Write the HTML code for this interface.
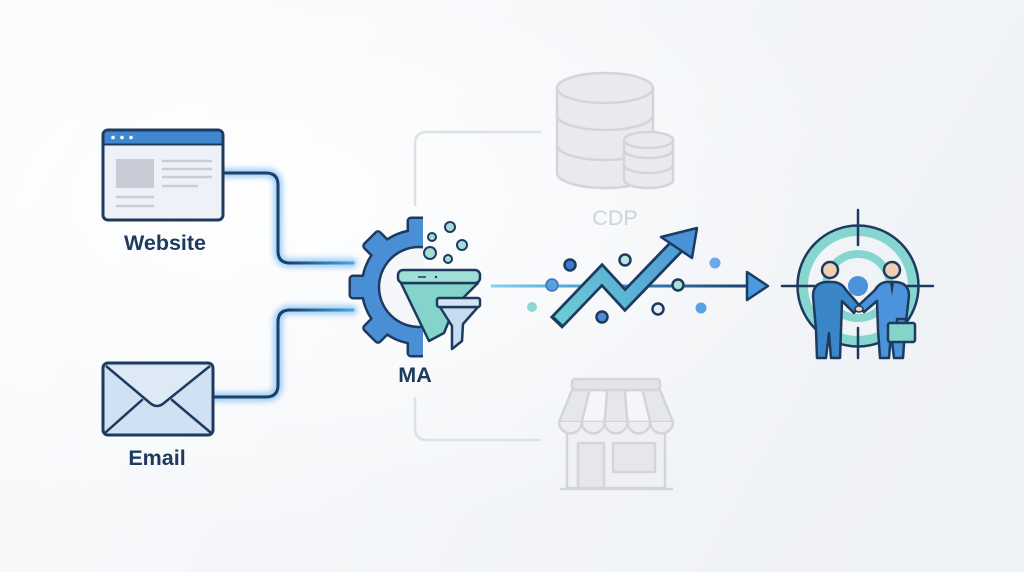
<!DOCTYPE html>
<html><head><meta charset="utf-8"><style>
html,body{margin:0;padding:0;width:1024px;height:572px;overflow:hidden;}
body{background:linear-gradient(120deg,#fafbfc 0%,#f4f6f9 45%,#eef1f5 100%);}
svg{display:block;}
text{font-family:"Liberation Sans",Arial,sans-serif;}
</style></head><body>
<svg width="1024" height="572" viewBox="0 0 1024 572" xmlns="http://www.w3.org/2000/svg">
<defs>
  <radialGradient id="bgw" cx="0.25" cy="0.35" r="0.6">
    <stop offset="0" stop-color="#ffffff" stop-opacity="0.9"/>
    <stop offset="1" stop-color="#ffffff" stop-opacity="0"/>
  </radialGradient>
  <filter id="glow" x="-20%" y="-50%" width="140%" height="200%"><feGaussianBlur stdDeviation="3"/></filter>
  <linearGradient id="lineg" x1="492" y1="0" x2="750" y2="0" gradientUnits="userSpaceOnUse">
    <stop offset="0" stop-color="#86d3ea"/>
    <stop offset="0.45" stop-color="#3f8fcc"/>
    <stop offset="1" stop-color="#1d3f68"/>
  </linearGradient>
  <linearGradient id="zig" x1="557" y1="322" x2="697" y2="230" gradientUnits="userSpaceOnUse">
    <stop offset="0" stop-color="#6ccdd2"/>
    <stop offset="1" stop-color="#4a92d8"/>
  </linearGradient>
  <linearGradient id="cw" x1="290" y1="0" x2="353" y2="0" gradientUnits="userSpaceOnUse">
    <stop offset="0" stop-color="#1d3f68"/>
    <stop offset="1" stop-color="#4aa6dc"/>
  </linearGradient>
  <clipPath id="gc"><rect x="330" y="200" width="93" height="180"/></clipPath>
</defs>
<rect width="1024" height="572" fill="url(#bgw)"/>

<!-- gray connectors -->
<g fill="none" stroke="#dde0e6" stroke-width="2.5" stroke-linecap="round">
  <path d="M415,205 V144 Q415,132 427,132 H540"/>
  <path d="M415,398 V428 Q415,440 427,440 H540"/>
</g>

<!-- Website / Email connectors -->
<g fill="none" stroke-linecap="round" stroke-linejoin="round">
  <g stroke="#4aa8f2" stroke-width="9" opacity="0.55" filter="url(#glow)">
    <path d="M223,173 H266 Q278,173 278,185 V251 Q278,263 290,263 H353"/>
    <path d="M213,397 H266 Q278,397 278,385 V322 Q278,310 290,310 H353"/>
  </g>
  <g stroke="#1d3f68" stroke-width="3">
    <path d="M223,173 H266 Q278,173 278,185 V251 Q278,263 290,263"/>
    <path d="M213,397 H266 Q278,397 278,385 V322 Q278,310 290,310"/>
  </g>
  <g stroke="url(#cw)" stroke-width="3">
    <path d="M289,263 H353"/>
    <path d="M289,310 H353"/>
  </g>
</g>

<!-- Website icon -->
<rect x="103" y="130" width="120" height="90" rx="5" fill="#eef1f8" stroke="#1d3a5f" stroke-width="3"/>
<path d="M104.5,144 V135 Q104.5,131.5 108,131.5 H218 Q221.5,131.5 221.5,135 V144 Z" fill="#3f88d0"/>
<line x1="104" y1="144.5" x2="222" y2="144.5" stroke="#1d3a5f" stroke-width="2"/>
<circle cx="113" cy="137.5" r="1.8" fill="#fff"/><circle cx="122" cy="137.5" r="1.8" fill="#fff"/><circle cx="131" cy="137.5" r="1.8" fill="#fff"/>
<rect x="116" y="159" width="38" height="29" fill="#c9ccd6"/>
<g stroke="#c9ccd6" stroke-width="2.5" stroke-linecap="round">
  <line x1="163" y1="161" x2="211" y2="161"/>
  <line x1="163" y1="169" x2="211" y2="169"/>
  <line x1="163" y1="177" x2="211" y2="177"/>
  <line x1="163" y1="186" x2="197" y2="186"/>
  <line x1="117" y1="197" x2="153" y2="197"/>
  <line x1="117" y1="206" x2="153" y2="206"/>
</g>
<text x="165" y="250" text-anchor="middle" font-size="21.5" font-weight="bold" fill="#1d3a5f">Website</text>

<!-- Email icon -->
<rect x="103" y="363" width="110" height="72" rx="5" fill="#cfe1f2" stroke="#1d3a5f" stroke-width="3"/>
<path d="M106,366 L150,403 Q157,409 164,403 L210,366" fill="#dde9f5" stroke="#1d3a5f" stroke-width="2.5" stroke-linejoin="round"/>
<path d="M106,432 L142,400 M210,432 L172,400" stroke="#1d3a5f" stroke-width="2.5" fill="none" stroke-linecap="round"/>
<text x="157" y="465" text-anchor="middle" font-size="21.5" font-weight="bold" fill="#1d3a5f">Email</text>

<!-- CDP -->
<g fill="#e9eaee" stroke="#d3d5db" stroke-width="2.5">
  <path d="M557,88 V173 A48,15 0 0 0 653,173 V88"/>
  <ellipse cx="605" cy="88" rx="48" ry="15"/>
  <path d="M557,115 A48,15 0 0 0 653,115" fill="none"/>
  <path d="M557,145 A48,15 0 0 0 653,145" fill="none"/>
  <path d="M624,140 V180 A24.5,8 0 0 0 673,180 V140"/>
  <ellipse cx="648.5" cy="140" rx="24.5" ry="8"/>
  <path d="M624,150 A24.5,8 0 0 0 673,150" fill="none"/>
  <path d="M624,165 A24.5,8 0 0 0 673,165" fill="none"/>
</g>
<text x="615" y="225" text-anchor="middle" font-size="21.5" fill="#cfd2d8">CDP</text>

<!-- Store -->
<g stroke="#d3d5db" stroke-width="2.5" stroke-linejoin="round">
  <rect x="567" y="425" width="98" height="63" fill="#eff0f3"/>
  <path d="M572,390 L559,422 H673 L660,390 Z" fill="#e6e7eb"/>
  <path d="M589.6,390 L581.8,422 H604.6 L607.2,390 Z M624.8,390 L627.4,422 H650.2 L642.4,390 Z" fill="#f5f6f8"/>
  <path d="M559,422 a11.4,11.4 0 0 0 22.8,0 a11.4,11.4 0 0 0 22.8,0 a11.4,11.4 0 0 0 22.8,0 a11.4,11.4 0 0 0 22.8,0 a11.4,11.4 0 0 0 22.8,0" fill="#eceef1"/>
  <rect x="572" y="379" width="88" height="11" rx="3" fill="#e3e4e8"/>
  <rect x="578" y="443" width="26" height="45" fill="#e6e7eb"/>
  <rect x="613" y="443" width="42" height="29" rx="1" fill="#e6e7eb"/>
  <line x1="560" y1="489" x2="673" y2="489"/>
</g>

<!-- Gear -->
<g clip-path="url(#gc)">
  <g fill="#1d3a5f" stroke="#1d3a5f" stroke-width="5" stroke-linejoin="round">
    <circle cx="419" cy="287" r="56"/>
    <rect x="409" y="219" width="20" height="22" rx="2"/>
    <rect x="409" y="219" width="20" height="22" rx="2" transform="rotate(-45 419 287)"/>
    <rect x="409" y="219" width="20" height="22" rx="2" transform="rotate(-90 419 287)"/>
    <rect x="409" y="219" width="20" height="22" rx="2" transform="rotate(-135 419 287)"/>
    <rect x="409" y="219" width="20" height="22" rx="2" transform="rotate(180 419 287)"/>
  </g>
  <g fill="#4a8fd6">
    <circle cx="419" cy="287" r="56"/>
    <rect x="409" y="219" width="20" height="22" rx="2"/>
    <rect x="409" y="219" width="20" height="22" rx="2" transform="rotate(-45 419 287)"/>
    <rect x="409" y="219" width="20" height="22" rx="2" transform="rotate(-90 419 287)"/>
    <rect x="409" y="219" width="20" height="22" rx="2" transform="rotate(-135 419 287)"/>
    <rect x="409" y="219" width="20" height="22" rx="2" transform="rotate(180 419 287)"/>
  </g>
  <circle cx="419" cy="287" r="40" fill="#f4f6f9" stroke="#1d3a5f" stroke-width="2.5"/>
</g>

<!-- bubbles -->
<g fill="#a5dcd8" stroke="#1d3a5f" stroke-width="2">
  <circle cx="450" cy="227" r="5"/>
  <circle cx="432" cy="237" r="4"/>
  <circle cx="462" cy="245" r="5"/>
  <circle cx="430" cy="253" r="6"/>
  <circle cx="448" cy="259" r="4"/>
</g>

<!-- Funnels -->
<g stroke="#1d3a5f" stroke-width="2.5" stroke-linejoin="round">
  <path d="M401,283 H478 L455,306 L444,333 L429,341 Z" fill="#84d4cb"/>
  <rect x="398" y="270" width="82" height="13" rx="5" fill="#9fdfd6"/>
  <path d="M440,307 H478 L463,324 L462,341 L452,349 L452,326 Z" fill="#c8dcef"/>
  <rect x="437" y="298" width="43" height="9" rx="2" fill="#d5e4f2"/>
</g>
<line x1="418" y1="277" x2="426" y2="277" stroke="#1d3a5f" stroke-width="1.5"/>
<circle cx="436" cy="277" r="1.2" fill="#1d3a5f"/>
<text x="415" y="382" text-anchor="middle" font-size="21.5" font-weight="bold" fill="#1d3a5f">MA</text>

<!-- main arrow line -->
<line x1="492" y1="286" x2="748" y2="286" stroke="#5ab8f2" stroke-width="8" opacity="0.5" filter="url(#glow)"/>
<line x1="492" y1="286" x2="748" y2="286" stroke="url(#lineg)" stroke-width="3" stroke-linecap="round"/>
<path d="M747,272 L768,286 L747,300 Z" fill="#4a9ae0" stroke="#1d3a5f" stroke-width="2.5" stroke-linejoin="round"/>

<!-- dots behind -->
<circle cx="532" cy="307" r="5" fill="#8ed6d0"/>
<circle cx="552" cy="285" r="6" fill="#5a9ee0" stroke="#3b75b5" stroke-width="1.5"/>
<circle cx="715" cy="263" r="5.5" fill="#6aa8e8"/>
<circle cx="701" cy="308" r="5.5" fill="#5aa0e4"/>

<!-- zigzag arrow -->
<polyline points="556,323 602,275 625,300 678,245" fill="none" stroke="#1d3a5f" stroke-width="17" stroke-linejoin="miter"/>
<polyline points="558.5,320.5 602,275 625,300 678,245" fill="none" stroke="url(#zig)" stroke-width="11.5" stroke-linejoin="miter"/>
<path d="M661,237 L697,228 L692,258 Z" fill="#4a92d8" stroke="#1d3a5f" stroke-width="2.5" stroke-linejoin="round"/>

<!-- dots front -->
<g stroke="#1d3a5f" stroke-width="2.5">
  <circle cx="570" cy="265" r="5.5" fill="#3a7bd5"/>
  <circle cx="625" cy="260" r="5.5" fill="#b8e6e2"/>
  <circle cx="602" cy="317" r="5.5" fill="#4a8fd6"/>
  <circle cx="658" cy="309" r="5.5" fill="#e8eef7"/>
  <circle cx="678" cy="285" r="5.5" fill="#a8e0da"/>
</g>

<!-- Target -->
<circle cx="858" cy="286" r="55" fill="none" stroke="#86d6cf" stroke-width="10"/>
<circle cx="858" cy="286" r="60.5" fill="none" stroke="#1d3a5f" stroke-width="2.5"/>
<circle cx="858" cy="286" r="32" fill="none" stroke="#86d6cf" stroke-width="8"/>
<circle cx="858" cy="286" r="10" fill="#4a92dc"/>
<g stroke="#1d3a5f" stroke-width="2.5" stroke-linecap="round">
  <line x1="858" y1="210" x2="858" y2="245"/>
  <line x1="858" y1="328" x2="858" y2="358"/>
  <line x1="782" y1="286" x2="815" y2="286"/>
  <line x1="903" y1="286" x2="933" y2="286"/>
</g>

<!-- People -->
<g stroke="#1d3a5f" stroke-width="2.5" stroke-linejoin="round">
  <path d="M813,296 Q813,283 826,282 L834,282 Q842,283 846,290 L859,305 L854,313 L842,301 L841,330 L840,358 L831,358 L829,333 L826,358 L817,358 L816,330 Z" fill="#3a86c6"/>
  <path d="M909,296 Q909,283 896,282 L886,282 Q879,283 875,290 L859,305 L864,312 L877,301 L878,330 L880,358 L889,358 L891,333 L894,358 L903,358 L905,330 Z" fill="#4b93da"/>
  <circle cx="830" cy="270" r="8" fill="#f2cfb4"/>
  <circle cx="892" cy="270" r="8" fill="#f2cfb4"/>
  <rect x="888" y="323" width="27" height="19" rx="2" fill="#84d4cb"/>
  <path d="M897,323 V319 H906 V323" fill="none"/>
</g>
<path d="M890,283 L894,283 L892,296 Z" fill="#1d3a5f"/>
<ellipse cx="859" cy="309" rx="4" ry="3" fill="#f2cfb4" stroke="#1d3a5f" stroke-width="1.5"/>
</svg>
</body></html>
